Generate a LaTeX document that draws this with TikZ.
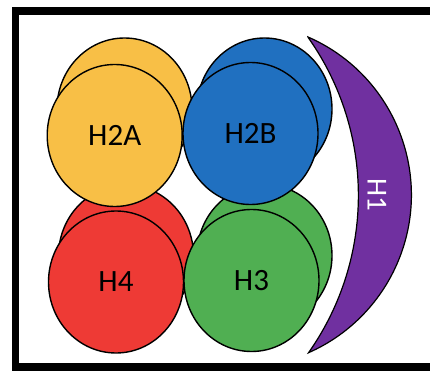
\documentclass[tikz,border=0pt]{standalone}
\usepackage{fontspec}
\newfontfamily\labfont{Carlito}
\usetikzlibrary{shapes.geometric}
\definecolor{cyellow}{HTML}{F8BF46}
\definecolor{cblue}{HTML}{2070C0}
\definecolor{cred}{HTML}{EE3A35}
\definecolor{cgreen}{HTML}{50AF52}
\definecolor{cpurple}{HTML}{7030A0}
\begin{document}
\begin{tikzpicture}[x=1pt,y=-1pt,
  blob/.style={ellipse, draw=black, line width=1.4pt, inner sep=0pt,
    minimum width=135pt, minimum height=142pt,
    font=\labfont\fontsize{31}{36}\selectfont, text=black}]
\useasboundingbox (0,0) rectangle (430,371);
\clip (0,0) rectangle (430,371);
\fill[white] (0,0) rectangle (430,371);
\draw[line width=7.5pt] (15.5,11) rectangle (460,367);
% back circles
\node[blob, fill=cred]    (h4b)  at (126,256) {};
\node[blob, fill=cgreen]  (h3b)  at (264.5,255.5) {};
\node[blob, fill=cyellow] (h2ab) at (124.5,109) {};
\node[blob, fill=cblue]   (h2bb) at (264.5,109) {};
% front circles
\node[blob, fill=cyellow] (h2a) at (114.7,135.5) {H2A};
\node[blob, fill=cblue]   (h2b) at (250.5,133.5) {H2B};
\node[blob, fill=cred]    (h4)  at (116,282) {H4};
\node[blob, fill=cgreen]  (h3)  at (251.5,280.5) {H3};
% H1 crescent
\draw[fill=cpurple, draw=black, line width=1.2pt]
  (308,37) arc[start angle=-66.4, end angle=66.2, radius=172.4]
  arc[start angle=35.15, end angle=-35.3, radius=273.3] -- cycle;
\node[rotate=-90, text=white, font=\labfont\fontsize{29}{34}\selectfont] (h1) at (377,195) {H1};
\end{tikzpicture}
\end{document}
